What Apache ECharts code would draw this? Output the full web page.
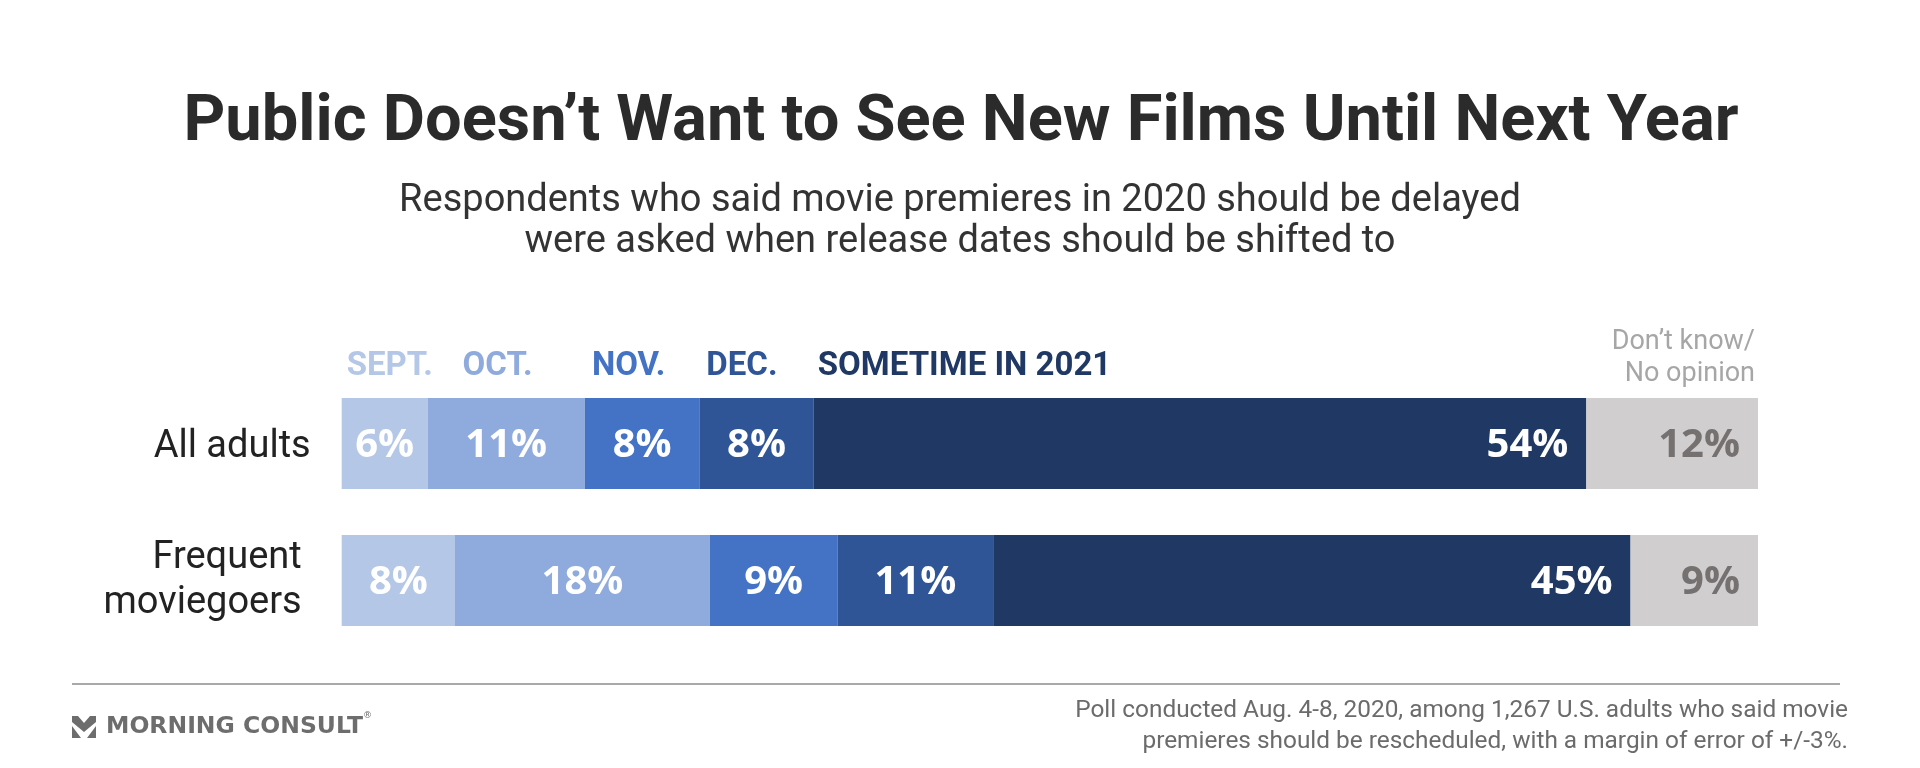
<!DOCTYPE html>
<html>
<head>
<meta charset="utf-8">
<script src="https://cdn.jsdelivr.net/npm/echarts@6/dist/echarts.min.js"></script>
<style>html,body{margin:0;padding:0;background:#fff;}#c{width:1920px;height:768px;}</style>
</head>
<body>
<div id="c"></div>
<script>
// ---- data ----
const categories = ['All adults', 'Frequent\nmoviegoers'];
const seriesNames = ['SEPT.', 'OCT.', 'NOV.', 'DEC.', 'SOMETIME IN 2021', 'Don’t know/\nNo opinion'];
const sept = [6, 8];
const oct = [11, 18];
const nov = [8, 9];
const dec = [8, 11];
const in2021 = [54, 45];
const dontKnow = [12, 9];

const titleText = 'Public Doesn’t Want to See New Films Until Next Year';
const subtitleText = 'Respondents who said movie premieres in 2020 should be delayed\nwere asked when release dates should be shifted to';
const noteText = 'Poll conducted Aug. 4-8, 2020, among 1,267 U.S. adults who said movie\npremieres should be rescheduled, with a margin of error of +/-3%.';
const brandText = 'MORNING CONSULT';

// ---- styles ----
const colors = ['#b4c7e7', '#8faadc', '#4472c4', '#2f5597', '#203864', '#d0cece'];
const legendOffsets = [5, 35, 7, 7, 4];
const raw = [sept, oct, nov, dec, in2021, dontKnow];
const totals = categories.map((_, j) => raw.reduce((s, arr) => s + arr[j], 0));
const shares = raw.map(arr => arr.map((v, j) => v / totals[j] * 100));

const chart = echarts.init(document.getElementById('c'), null, {renderer: 'canvas'});

const series = raw.map((arr, i) => ({
  name: seriesNames[i],
  type: 'bar',
  stack: 'total',
  barWidth: 91,
  data: shares[i],
  itemStyle: {color: colors[i]},
  emphasis: {disabled: true},
  label: {
    show: true,
    position: i < 4 ? 'inside' : 'insideRight',
    distance: 18,
    formatter: p => arr[p.dataIndex] + '%',
    color: i === 5 ? '#767171' : '#ffffff',
    fontFamily: 'Open Sans',
    fontWeight: 'bold',
    fontSize: 40,
    offset: [0, 2]
  }
}));

chart.setOption({
  animation: false,
  grid: {left: 341.7, right: 162, top: 375, bottom: 119, containLabel: false},
  xAxis: {type: 'value', min: 0, max: 100, show: false},
  yAxis: {
    type: 'category',
    data: categories,
    inverse: true,
    axisLine: {show: false},
    axisTick: {show: false},
    splitLine: {show: false},
    axisLabel: {
      margin: 31,
      formatter: v => v.indexOf('\n') >= 0 ? v.split('\n').map(s => '{b|' + s + '}').join('\n') : '{a|' + v + '}',
      rich: {
        a: {fontFamily: 'Roboto', fontSize: 38, color: '#222', lineHeight: 46, padding: [8, 0, 0, 0]},
        b: {fontFamily: 'Roboto', fontSize: 38, color: '#222', lineHeight: 45, padding: [0, 9, 0, 0]}
      }
    }
  },
  series: series
});

// legend labels above the top bar, aligned to segment starts
const graphics = [];
let cum = 0;
const topBarTop = chart.convertToPixel({yAxisIndex: 0}, 0) - 45.5;
for (let i = 0; i < 5; i++) {
  const x = chart.convertToPixel({xAxisIndex: 0}, cum);
  graphics.push({
    type: 'text', x: x + legendOffsets[i], y: topBarTop - 31,
    style: {text: seriesNames[i], fill: colors[i], font: 'bold 33px Roboto', textAlign: 'left', textVerticalAlign: 'middle'}
  });
  cum += shares[i][0];
}
const xEnd = chart.convertToPixel({xAxisIndex: 0}, 100);
graphics.push({
  type: 'text', x: xEnd - 3, y: topBarTop - 40,
  style: {text: seriesNames[5], fill: '#a6a6a6', font: '27px Roboto', textAlign: 'right', textVerticalAlign: 'middle', lineHeight: 32}
});

// title & subtitle
graphics.push({
  type: 'text', x: 961, y: 124,
  style: {text: titleText, fill: '#2b2b2b', font: 'bold 65px Roboto', textAlign: 'center', textVerticalAlign: 'middle'}
});
graphics.push({
  type: 'text', x: 960, y: 222,
  style: {text: subtitleText, fill: '#333333', font: '38px Roboto', textAlign: 'center', textVerticalAlign: 'middle', lineHeight: 41}
});

// footer rule
graphics.push({type: 'line', shape: {x1: 72, y1: 684, x2: 1840, y2: 684}, style: {stroke: '#8c8c8c', lineWidth: 1.5}});

// footnote
graphics.push({
  type: 'text', x: 1848, y: 726,
  style: {text: noteText, fill: '#6b6b6b', font: '24.4px Roboto', textAlign: 'right', textVerticalAlign: 'middle', lineHeight: 31}
});

// brand mark
graphics.push({type: 'polygon', shape: {points: [[72,716],[78,716],[84,723],[90,716],[96,716],[96,722],[84,732],[72,722]]}, style: {fill: '#6d6d6d'}});
graphics.push({type: 'polygon', shape: {points: [[72,726],[81,738],[72,738]]}, style: {fill: '#6d6d6d'}});
graphics.push({type: 'polygon', shape: {points: [[96,726],[87,738],[96,738]]}, style: {fill: '#6d6d6d'}});
graphics.push({
  type: 'text', x: 106, y: 727,
  style: {text: brandText, fill: '#6d6d6d', font: 'bold 23.5px "DejaVu Sans"', textAlign: 'left', textVerticalAlign: 'middle'}
});
graphics.push({
  type: 'text', x: 363, y: 716,
  style: {text: '®', fill: '#6d6d6d', font: '9px "DejaVu Sans"', textAlign: 'left', textVerticalAlign: 'middle'}
});

chart.setOption({graphic: {elements: graphics}});
</script>
</body>
</html>
